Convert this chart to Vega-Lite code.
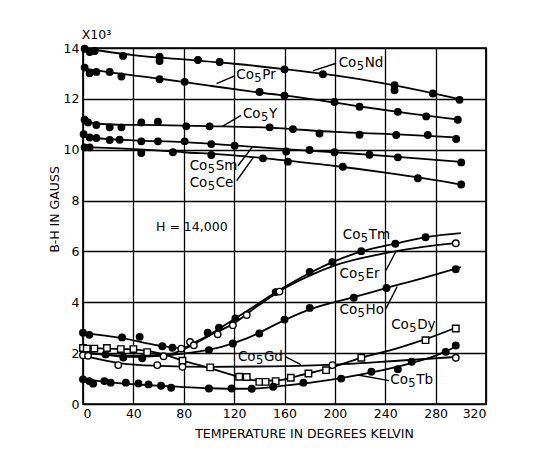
{
  "$schema": "https://vega.github.io/schema/vega-lite/v6.json",
  "width": 403,
  "height": 356,
  "autosize": {"type": "none"},
  "padding": {"left": 83, "top": 48, "right": 71, "bottom": 48},
  "background": "white",
  "config": {
    "view": {"stroke": "black", "strokeWidth": 1.7},
    "font": "DejaVu Sans"
  },
  "datasets": {
    "points": [
      {"s":"Nd","x":1.3,"y":13.97},{"s":"Nd","x":5.3,"y":13.84},{"s":"Nd","x":9.3,"y":13.88},{"s":"Nd","x":31.8,"y":13.69},{"s":"Nd","x":60.8,"y":13.66},{"s":"Nd","x":60.8,"y":13.49},{"s":"Nd","x":91.3,"y":13.53},{"s":"Nd","x":108.5,"y":13.45},{"s":"Nd","x":160,"y":13.16},{"s":"Nd","x":190.5,"y":12.97},{"s":"Nd","x":247.4,"y":12.54},{"s":"Nd","x":247.4,"y":12.34},{"s":"Nd","x":277.8,"y":12.21},{"s":"Nd","x":299,"y":11.96},
      {"s":"Pr","x":1.3,"y":13.23},{"s":"Pr","x":5.3,"y":13.01},{"s":"Pr","x":10.6,"y":13.06},{"s":"Pr","x":21.2,"y":13.06},{"s":"Pr","x":30.5,"y":12.88},{"s":"Pr","x":60.8,"y":12.77},{"s":"Pr","x":80.7,"y":12.67},{"s":"Pr","x":140.2,"y":12.27},{"s":"Pr","x":160,"y":12.12},{"s":"Pr","x":199.7,"y":11.88},{"s":"Pr","x":219.6,"y":11.69},{"s":"Pr","x":250,"y":11.49},{"s":"Pr","x":272.5,"y":11.31},{"s":"Pr","x":297.6,"y":11.18},
      {"s":"Y","x":1.3,"y":11.18},{"s":"Y","x":4,"y":11.07},{"s":"Y","x":10.6,"y":10.97},{"s":"Y","x":21.2,"y":10.88},{"s":"Y","x":30.5,"y":10.88},{"s":"Y","x":46.3,"y":11.07},{"s":"Y","x":59.5,"y":11.1},{"s":"Y","x":82,"y":10.92},{"s":"Y","x":100.5,"y":10.92},{"s":"Y","x":148.2,"y":10.88},{"s":"Y","x":166.7,"y":10.81},{"s":"Y","x":187.8,"y":10.64},{"s":"Y","x":219.6,"y":10.59},{"s":"Y","x":248.7,"y":10.58},{"s":"Y","x":273.8,"y":10.58},{"s":"Y","x":296.3,"y":10.42},
      {"s":"Sm","x":0.5,"y":10.61},{"s":"Sm","x":5.3,"y":10.48},{"s":"Sm","x":10.6,"y":10.46},{"s":"Sm","x":21.2,"y":10.38},{"s":"Sm","x":29.1,"y":10.39},{"s":"Sm","x":46.3,"y":10.33},{"s":"Sm","x":59.5,"y":10.33},{"s":"Sm","x":80.7,"y":10.33},{"s":"Sm","x":101.9,"y":10.22},{"s":"Sm","x":120.4,"y":10.16},{"s":"Sm","x":161.4,"y":9.93},{"s":"Sm","x":179.9,"y":9.99},{"s":"Sm","x":199.7,"y":9.9},{"s":"Sm","x":227.5,"y":9.8},{"s":"Sm","x":250,"y":9.7},{"s":"Sm","x":300.3,"y":9.5},
      {"s":"Ce","x":1.3,"y":10.09},{"s":"Ce","x":5.3,"y":10.09},{"s":"Ce","x":46.3,"y":9.87},{"s":"Ce","x":71.4,"y":9.9},{"s":"Ce","x":101.9,"y":9.79},{"s":"Ce","x":142.9,"y":9.66},{"s":"Ce","x":162.7,"y":9.53},{"s":"Ce","x":206.3,"y":9.33},{"s":"Ce","x":265.9,"y":8.88},{"s":"Ce","x":300.3,"y":8.63},
      {"s":"Tm","x":0,"y":2.8},{"s":"Tm","x":5,"y":2.72},{"s":"Tm","x":31,"y":2.62},{"s":"Tm","x":45,"y":2.64},{"s":"Tm","x":63,"y":2.27},{"s":"Tm","x":71,"y":2.21},{"s":"Tm","x":99,"y":2.8},{"s":"Tm","x":108,"y":3.0},{"s":"Tm","x":121,"y":3.36},{"s":"Tm","x":153,"y":4.4},{"s":"Tm","x":180,"y":5.19},{"s":"Tm","x":198,"y":5.58},{"s":"Tm","x":221,"y":6.01},{"s":"Tm","x":248,"y":6.3},{"s":"Tm","x":272,"y":6.56},
      {"s":"Er","x":2,"y":1.95},{"s":"Er","x":64,"y":1.88},{"s":"Er","x":78,"y":2.18},{"s":"Er","x":85,"y":2.44},{"s":"Er","x":88,"y":2.31},{"s":"Er","x":107,"y":2.74},{"s":"Er","x":119,"y":3.1},{"s":"Er","x":130,"y":3.5},{"s":"Er","x":156,"y":4.42},{"s":"Er","x":296,"y":6.32},
      {"s":"Ho","x":18,"y":1.95},{"s":"Ho","x":32,"y":1.83},{"s":"Ho","x":47,"y":1.8},{"s":"Ho","x":100,"y":2.12},{"s":"Ho","x":119,"y":2.38},{"s":"Ho","x":140,"y":2.77},{"s":"Ho","x":160,"y":3.32},{"s":"Ho","x":180,"y":3.78},{"s":"Ho","x":215,"y":4.18},{"s":"Ho","x":241,"y":4.56},{"s":"Ho","x":296,"y":5.3},
      {"s":"Dy","x":0,"y":2.2},{"s":"Dy","x":3,"y":2.18},{"s":"Dy","x":9,"y":2.18},{"s":"Dy","x":19,"y":2.2},{"s":"Dy","x":30,"y":2.16},{"s":"Dy","x":40,"y":2.16},{"s":"Dy","x":51,"y":2.04},{"s":"Dy","x":79,"y":1.7},{"s":"Dy","x":101,"y":1.44},{"s":"Dy","x":124,"y":1.07},{"s":"Dy","x":130,"y":1.06},{"s":"Dy","x":140,"y":0.87},{"s":"Dy","x":145,"y":0.87},{"s":"Dy","x":153,"y":0.9},{"s":"Dy","x":165,"y":1.03},{"s":"Dy","x":179,"y":1.2},{"s":"Dy","x":193,"y":1.33},{"s":"Dy","x":221,"y":1.82},{"s":"Dy","x":272,"y":2.51},{"s":"Dy","x":296,"y":2.97},
      {"s":"Gd","x":0,"y":1.92},{"s":"Gd","x":4,"y":1.9},{"s":"Gd","x":28,"y":1.53},{"s":"Gd","x":59,"y":1.53},{"s":"Gd","x":79,"y":1.46},{"s":"Gd","x":198,"y":1.53},{"s":"Gd","x":296,"y":1.82},
      {"s":"Tb","x":0,"y":0.97},{"s":"Tb","x":5,"y":0.9},{"s":"Tb","x":8,"y":0.8},{"s":"Tb","x":17,"y":0.9},{"s":"Tb","x":22,"y":0.84},{"s":"Tb","x":34,"y":0.84},{"s":"Tb","x":44,"y":0.81},{"s":"Tb","x":52,"y":0.77},{"s":"Tb","x":62,"y":0.72},{"s":"Tb","x":70,"y":0.64},{"s":"Tb","x":100,"y":0.61},{"s":"Tb","x":118,"y":0.61},{"s":"Tb","x":134,"y":0.6},{"s":"Tb","x":151,"y":0.68},{"s":"Tb","x":175,"y":0.84},{"s":"Tb","x":205,"y":1.0},{"s":"Tb","x":229,"y":1.27},{"s":"Tb","x":250,"y":1.37},{"s":"Tb","x":261,"y":1.66},{"s":"Tb","x":288,"y":2.05},{"s":"Tb","x":296,"y":2.3}
    ],
    "curves": [
      {"s":"Nd","x":0,"y":14.0},{"s":"Nd","x":40,"y":13.72},{"s":"Nd","x":80,"y":13.55},{"s":"Nd","x":120,"y":13.38},{"s":"Nd","x":160,"y":13.17},{"s":"Nd","x":200,"y":12.92},{"s":"Nd","x":240,"y":12.6},{"s":"Nd","x":280,"y":12.2},{"s":"Nd","x":300,"y":11.98},
      {"s":"Pr","x":0,"y":13.2},{"s":"Pr","x":20,"y":13.05},{"s":"Pr","x":60,"y":12.8},{"s":"Pr","x":100,"y":12.52},{"s":"Pr","x":140,"y":12.25},{"s":"Pr","x":180,"y":12.0},{"s":"Pr","x":220,"y":11.7},{"s":"Pr","x":260,"y":11.42},{"s":"Pr","x":300,"y":11.17},
      {"s":"Y","x":0,"y":11.2},{"s":"Y","x":8,"y":11.05},{"s":"Y","x":30,"y":10.98},{"s":"Y","x":60,"y":10.97},{"s":"Y","x":100,"y":10.93},{"s":"Y","x":150,"y":10.86},{"s":"Y","x":200,"y":10.7},{"s":"Y","x":250,"y":10.6},{"s":"Y","x":296,"y":10.48},
      {"s":"Sm","x":0,"y":10.65},{"s":"Sm","x":10,"y":10.46},{"s":"Sm","x":40,"y":10.37},{"s":"Sm","x":80,"y":10.3},{"s":"Sm","x":120,"y":10.17},{"s":"Sm","x":160,"y":10.02},{"s":"Sm","x":200,"y":9.9},{"s":"Sm","x":250,"y":9.72},{"s":"Sm","x":300,"y":9.52},
      {"s":"Ce","x":0,"y":10.1},{"s":"Ce","x":40,"y":10.02},{"s":"Ce","x":80,"y":9.9},{"s":"Ce","x":120,"y":9.78},{"s":"Ce","x":160,"y":9.58},{"s":"Ce","x":200,"y":9.36},{"s":"Ce","x":240,"y":9.1},{"s":"Ce","x":270,"y":8.88},{"s":"Ce","x":300,"y":8.63},
      {"s":"Tm","x":0,"y":2.8},{"s":"Tm","x":30,"y":2.6},{"s":"Tm","x":60,"y":2.3},{"s":"Tm","x":78,"y":2.2},{"s":"Tm","x":92,"y":2.5},{"s":"Tm","x":110,"y":3.02},{"s":"Tm","x":130,"y":3.65},{"s":"Tm","x":155,"y":4.45},{"s":"Tm","x":180,"y":5.15},{"s":"Tm","x":200,"y":5.62},{"s":"Tm","x":220,"y":5.98},{"s":"Tm","x":250,"y":6.33},{"s":"Tm","x":275,"y":6.58},{"s":"Tm","x":300,"y":6.72},
      {"s":"Er","x":0,"y":2.0},{"s":"Er","x":40,"y":1.9},{"s":"Er","x":68,"y":1.95},{"s":"Er","x":80,"y":2.15},{"s":"Er","x":100,"y":2.68},{"s":"Er","x":120,"y":3.18},{"s":"Er","x":140,"y":3.9},{"s":"Er","x":160,"y":4.55},{"s":"Er","x":180,"y":5.05},{"s":"Er","x":200,"y":5.45},{"s":"Er","x":240,"y":5.93},{"s":"Er","x":270,"y":6.18},{"s":"Er","x":296,"y":6.33},
      {"s":"Ho","x":0,"y":2.05},{"s":"Ho","x":40,"y":1.85},{"s":"Ho","x":70,"y":1.93},{"s":"Ho","x":90,"y":2.05},{"s":"Ho","x":110,"y":2.25},{"s":"Ho","x":130,"y":2.58},{"s":"Ho","x":160,"y":3.3},{"s":"Ho","x":180,"y":3.72},{"s":"Ho","x":215,"y":4.2},{"s":"Ho","x":240,"y":4.55},{"s":"Ho","x":270,"y":4.95},{"s":"Ho","x":300,"y":5.38},
      {"s":"Dy","x":0,"y":2.2},{"s":"Dy","x":40,"y":2.15},{"s":"Dy","x":60,"y":2.0},{"s":"Dy","x":80,"y":1.7},{"s":"Dy","x":100,"y":1.42},{"s":"Dy","x":120,"y":1.12},{"s":"Dy","x":140,"y":0.92},{"s":"Dy","x":155,"y":0.93},{"s":"Dy","x":170,"y":1.1},{"s":"Dy","x":195,"y":1.4},{"s":"Dy","x":220,"y":1.8},{"s":"Dy","x":250,"y":2.2},{"s":"Dy","x":272,"y":2.55},{"s":"Dy","x":296,"y":3.0},
      {"s":"Gd","x":0,"y":1.9},{"s":"Gd","x":30,"y":1.6},{"s":"Gd","x":60,"y":1.5},{"s":"Gd","x":100,"y":1.46},{"s":"Gd","x":150,"y":1.48},{"s":"Gd","x":200,"y":1.55},{"s":"Gd","x":250,"y":1.7},{"s":"Gd","x":296,"y":1.85},
      {"s":"Tb","x":0,"y":1.0},{"s":"Tb","x":20,"y":0.86},{"s":"Tb","x":60,"y":0.72},{"s":"Tb","x":100,"y":0.62},{"s":"Tb","x":130,"y":0.6},{"s":"Tb","x":160,"y":0.72},{"s":"Tb","x":200,"y":0.98},{"s":"Tb","x":230,"y":1.25},{"s":"Tb","x":260,"y":1.6},{"s":"Tb","x":280,"y":1.9},{"s":"Tb","x":296,"y":2.25}
    ],
    "labels": [
      {"el":"Nd","x":203,"y":13.42},
      {"el":"Pr","x":121.7,"y":12.93},
      {"el":"Y","x":127,"y":11.4},
      {"el":"Sm","x":84.7,"y":9.35},
      {"el":"Ce","x":84.7,"y":8.7},
      {"el":"Tm","x":206.3,"y":6.63},
      {"el":"Er","x":203.7,"y":5.12},
      {"el":"Ho","x":203.7,"y":3.69},
      {"el":"Dy","x":244.7,"y":3.1},
      {"el":"Gd","x":123,"y":1.86},
      {"el":"Tb","x":244,"y":0.94}
    ],
    "notes": [
      {"t":"X10³","x":-1,"y":14.5},
      {"t":"H = 14,000","x":58,"y":6.95}
    ],
    "leaders": [
      {"x":201,"y":13.4,"x2":182.5,"y2":13.1},
      {"x":120.5,"y":12.9,"x2":106,"y2":12.6},
      {"x":125.5,"y":11.35,"x2":111,"y2":10.93},
      {"x":123,"y":9.37,"x2":134.4,"y2":10.1},
      {"x":122,"y":8.78,"x2":135,"y2":9.68},
      {"x":240.5,"y":5.25,"x2":248.5,"y2":6.0},
      {"x":240.5,"y":3.75,"x2":249.5,"y2":4.62},
      {"x":160.5,"y":1.86,"x2":173,"y2":1.55},
      {"x":243,"y":0.92,"x2":218.3,"y2":1.14}
    ]
  },
  "layer": [
    {
      "data": {"name": "curves"},
      "mark": {"type": "line", "color": "black", "strokeWidth": 1.8, "interpolate": "monotone"},
      "encoding": {
        "x": {"field": "x", "type": "quantitative", "scale": {"domain": [0, 320], "nice": false},
          "axis": {"values": [0,40,80,120,160,200,240,280,320], "grid": true, "gridColor": "black", "gridWidth": 1.3, "gridOpacity": 1,
            "domain": false, "ticks": false, "labelPadding": 3, "labelFontSize": 12.5, "labelColor": "black", "labelFont": "DejaVu Sans",
            "title": "TEMPERATURE IN DEGREES KELVIN", "titleFontSize": 12.5, "titleFontWeight": "normal", "titleFont": "DejaVu Sans", "titleColor": "black", "titlePadding": 8, "titleX": 221}},
        "y": {"field": "y", "type": "quantitative", "scale": {"domain": [0, 14], "nice": false},
          "axis": {"values": [0,2,4,6,8,10,12,14], "grid": true, "gridColor": "black", "gridWidth": 1.3, "gridOpacity": 1,
            "domain": false, "ticks": false, "labelPadding": 4, "labelFontSize": 12.5, "labelColor": "black", "labelFont": "DejaVu Sans",
            "title": "B-H IN GAUSS", "titleFontSize": 12.5, "titleFontWeight": "normal", "titleFont": "DejaVu Sans", "titleColor": "black", "titlePadding": 2, "titleY": 161}},
        "detail": {"field": "s"}
      }
    },
    {
      "data": {"name": "points"},
      "mark": {"type": "point", "filled": true, "stroke": "black", "strokeWidth": 1.4, "size": 42, "opacity": 1},
      "encoding": {
        "x": {"field": "x", "type": "quantitative"},
        "y": {"field": "y", "type": "quantitative"},
        "shape": {"field": "s", "type": "nominal", "legend": null,
          "scale": {"domain": ["Nd","Pr","Y","Sm","Ce","Tm","Er","Ho","Dy","Gd","Tb"],
                    "range": ["circle","circle","circle","circle","circle","circle","circle","circle","square","circle","circle"]}},
        "fill": {"field": "s", "type": "nominal", "legend": null,
          "scale": {"domain": ["Nd","Pr","Y","Sm","Ce","Tm","Er","Ho","Dy","Gd","Tb"],
                    "range": ["black","black","black","black","black","black","white","black","white","white","black"]}}
      }
    },
    {
      "data": {"name": "leaders"},
      "mark": {"type": "rule", "color": "black", "strokeWidth": 1.4},
      "encoding": {
        "x": {"field": "x", "type": "quantitative"},
        "y": {"field": "y", "type": "quantitative"},
        "x2": {"field": "x2"},
        "y2": {"field": "y2"}
      }
    },
    {
      "data": {"name": "labels"},
      "mark": {"type": "text", "align": "left", "baseline": "middle", "font": "DejaVu Sans", "fontSize": 13.5, "color": "black", "text": "Co"},
      "encoding": {
        "x": {"field": "x", "type": "quantitative"},
        "y": {"field": "y", "type": "quantitative"}
      }
    },
    {
      "data": {"name": "labels"},
      "mark": {"type": "text", "align": "left", "baseline": "middle", "font": "DejaVu Sans", "fontSize": 11.5, "color": "black", "text": "5", "dx": 18, "dy": 4},
      "encoding": {
        "x": {"field": "x", "type": "quantitative"},
        "y": {"field": "y", "type": "quantitative"}
      }
    },
    {
      "data": {"name": "labels"},
      "mark": {"type": "text", "align": "left", "baseline": "middle", "font": "DejaVu Sans", "fontSize": 13.5, "color": "black", "dx": 26},
      "encoding": {
        "x": {"field": "x", "type": "quantitative"},
        "y": {"field": "y", "type": "quantitative"},
        "text": {"field": "el"}
      }
    },
    {
      "data": {"name": "notes"},
      "mark": {"type": "text", "align": "left", "baseline": "middle", "font": "DejaVu Sans", "fontSize": 12.5, "color": "black"},
      "encoding": {
        "x": {"field": "x", "type": "quantitative"},
        "y": {"field": "y", "type": "quantitative"},
        "text": {"field": "t"}
      }
    }
  ]
}
